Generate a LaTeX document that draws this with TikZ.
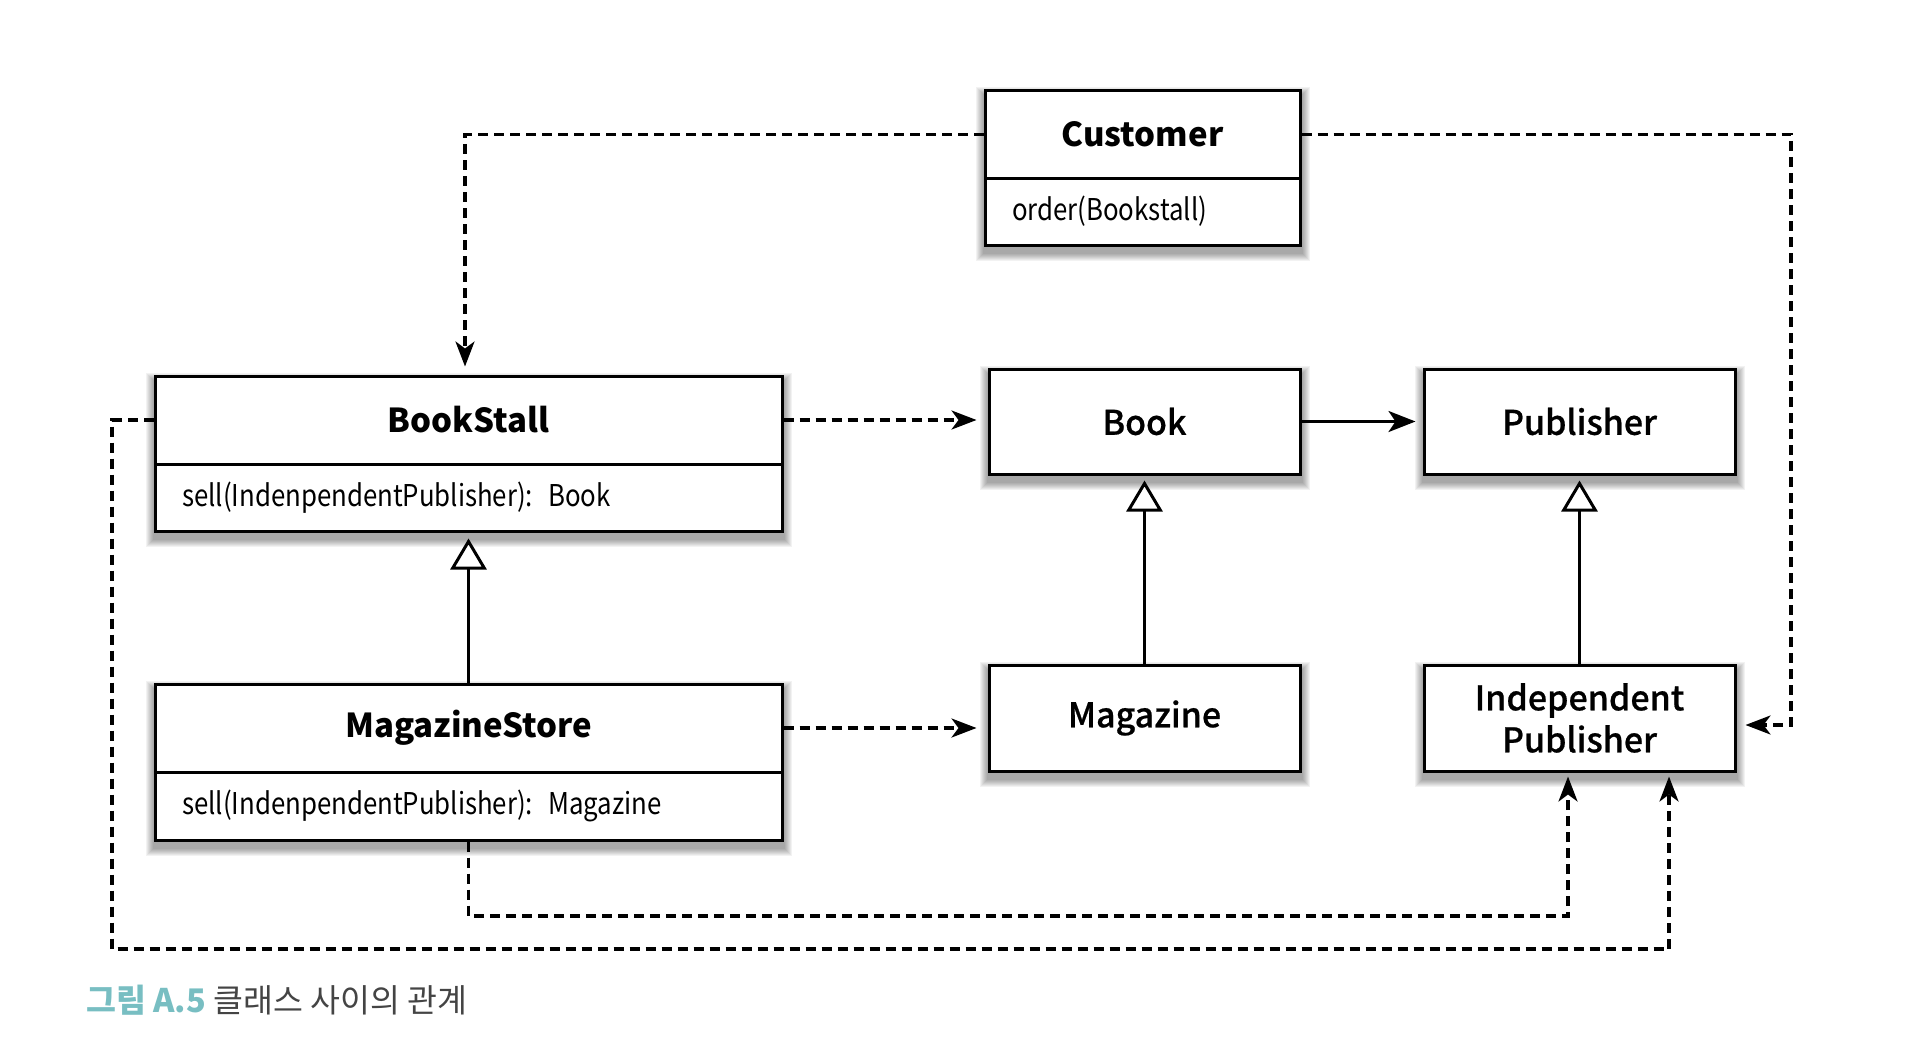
\documentclass[tikz,border=0pt]{standalone}
\usepackage{fontspec}
\setmainfont{Noto Sans CJK KR}
\newfontfamily\mediumfont[FakeBold=0.6]{Noto Sans CJK KR Medium}
\newfontfamily\methfont[FakeStretch=0.86]{Noto Sans CJK KR}
\usetikzlibrary{arrows.meta,backgrounds,calc}
\definecolor{capteal}{RGB}{120,190,194}
\definecolor{capgray}{RGB}{68,68,68}
\tikzset{
  box/.style={draw, line width=3pt, fill=white, rectangle, inner sep=0pt},
  titlebox/.style={box, font=\fontsize{33pt}{39pt}\selectfont\bfseries},
  plainbox/.style={box, font=\fontsize{34pt}{42pt}\selectfont\mediumfont, align=center},
  methbox/.style={box, inner xsep=27pt, align=left, font=\fontsize{30pt}{34pt}\selectfont\methfont},
  dep/.style={line width=3.1pt, dash pattern=on 10pt off 6pt, -{Stealth[length=25pt,width=19pt,inset=7pt]}},
  assoc/.style={line width=3pt, -{Stealth[length=27pt,width=21pt,inset=7pt]}},
  gen/.style={line width=3pt, -{Triangle[length=31pt,width=36pt,fill=white]}}
}
\begin{document}
\begin{tikzpicture}[x=1pt,y=-1pt]
\useasboundingbox (0,0) rectangle (1922,1062);
% classes
\node[titlebox, minimum width=315pt, minimum height=87pt] (customer) at (1142.5,134.5) {Customer};
\node[methbox, text width=261pt, minimum height=67pt] (customerm) at (1142.5,211.5) {order(Bookstall)};
\node[titlebox, minimum width=627pt, minimum height=88pt] (bookstall) at (468.5,420) {BookStall};
\node[methbox, text width=573pt, minimum height=67pt] (bookstallm) at (468.5,497.5) {sell(IndenpendentPublisher): Book};
\node[titlebox, minimum width=627pt, minimum height=88pt] (magstore) at (468.5,728) {MagazineStore};
\node[methbox, text width=573pt, minimum height=68pt] (magstorem) at (468.5,806) {sell(IndenpendentPublisher): Magazine};
\node[plainbox, minimum width=311pt, minimum height=105pt] (book) at (1144.5,421.5) {Book};
\node[plainbox, minimum width=311pt, minimum height=105pt] (publisher) at (1579.5,421.5) {Publisher};
\node[plainbox, minimum width=311pt, minimum height=106pt] (magazine) at (1144.5,718) {Magazine};
\node[plainbox, minimum width=311pt, minimum height=106pt] (indep) at (1579.5,718) {Independent\\Publisher};
% shadows
\begin{scope}[on background layer]
\foreach \a/\b in {customer/customerm, bookstall/bookstallm, magstore/magstorem, book/book, publisher/publisher, magazine/magazine, indep/indep}{
  \foreach \e in {1,...,8}{
    \fill[black,opacity=0.05] ($(\a.north west)+(-\e,6-\e)$) rectangle ($(\b.south east)+(\e,6+\e)$);
  }
}
\end{scope}
% connectors
\coordinate (cr) at (1791,725);
\coordinate (j1) at (1568,916);
\coordinate (j2) at (112,949);
\coordinate (j3) at (1669,949);
\draw[dep, shorten >=8pt] (customer.west) -| ([xshift=-3.5pt]bookstall.north);
\draw[dep, shorten >=9pt] (customer.east) -| (cr) -- (cr -| indep.east);
\draw[dep, shorten >=11pt] (bookstall.east) -- (bookstall.east -| book.west);
\draw[dep, shorten >=11pt] (magstore.east) -- (magstore.east -| magazine.west);
\draw[assoc, shorten >=7pt] (book.east) -- (publisher.west);
\draw[gen, shorten >=5pt] (magazine.north) -- (book.south);
\draw[gen, shorten >=5pt] (indep.north) -- (publisher.south);
\draw[gen, shorten >=6pt] (magstore.north) -- (bookstallm.south);
\draw[dep, shorten >=4pt] (magstorem.south) |- (j1) -- (j1 |- indep.south);
\draw[dep, shorten >=4pt] (bookstall.west) -| (j2) -- (j3) -- (j3 |- indep.south);
% caption
\node[anchor=base west, inner sep=0pt, font=\fontsize{32.5pt}{38pt}\selectfont] (caption) at (86,1012) {\textcolor{capteal}{\bfseries 그림 A.5} \textcolor{capgray}{클래스 사이의 관계}};
\end{tikzpicture}
\end{document}
